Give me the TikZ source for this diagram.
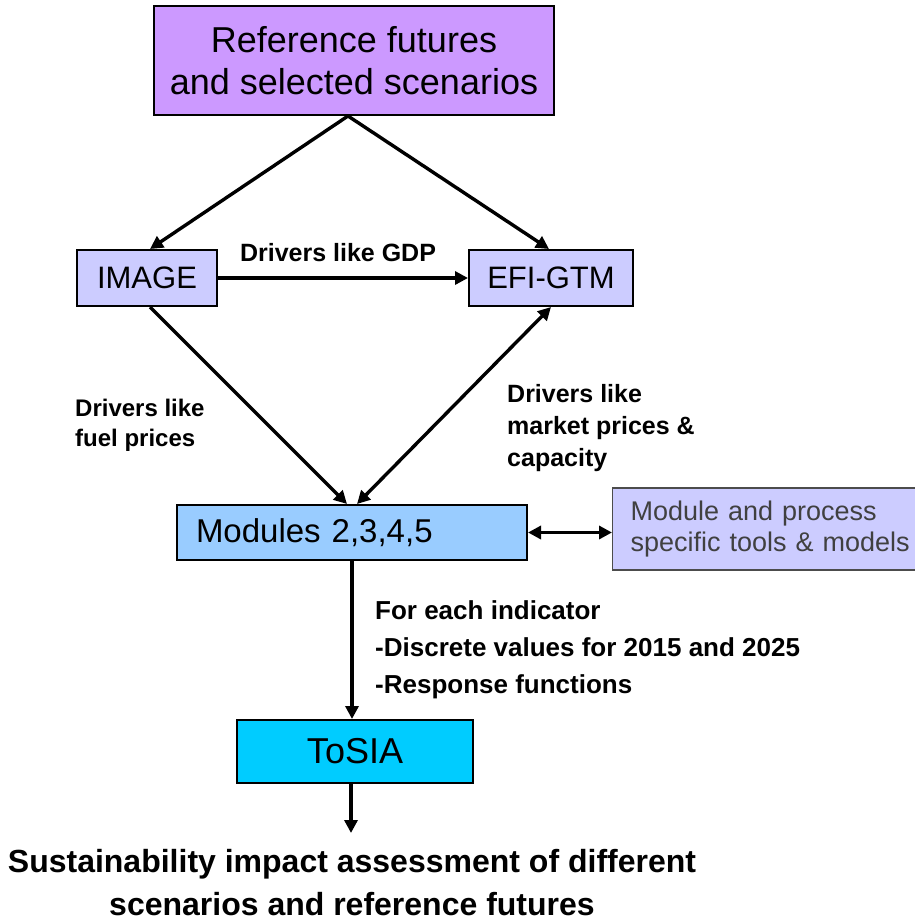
\documentclass[tikz,border=0pt]{standalone}
\usepackage{fontspec}
\setmainfont{Liberation Sans}
\usetikzlibrary{arrows.meta}

\definecolor{lilac}{HTML}{CC99FF}
\definecolor{lavender}{HTML}{CCCCFF}
\definecolor{skyblue}{HTML}{99CCFF}
\definecolor{cyanbox}{HTML}{00CCFF}

\tikzset{
  box/.style={draw=black, line width=2pt, inner sep=0pt, align=center},
  link/.style={line width=3.4pt, -{Triangle[length=13pt,width=13pt]}},
  twolink/.style={line width=3.4pt, {Triangle[length=13pt,width=13pt]}-{Triangle[length=13pt,width=13pt]}},
  note/.style={font=\fontsize{25}{32}\selectfont\bfseries, align=left, inner sep=0pt}
}

\begin{document}
\begin{tikzpicture}[x=1pt,y=-1pt]
\useasboundingbox (0,0) rectangle (915,921);

% boxes
\node[box, fill=lilac, minimum width=400, minimum height=109,
  font=\fontsize{36}{42}\selectfont] (ref) at (354,60.5) {Reference futures\\and selected scenarios};
\node[box, fill=lavender, minimum width=140, minimum height=56,
  font=\fontsize{31}{36}\selectfont] (image) at (147,278) {IMAGE};
\node[box, fill=lavender, minimum width=164, minimum height=56,
  font=\fontsize{31}{36}\selectfont] (efi) at (551,278) {EFI-GTM};
\node[box, fill=skyblue, minimum width=350, minimum height=55, inner xsep=19,
  text width=312, align=left, font=\fontsize{33}{36}\selectfont] (mod) at (352,532.5) {Modules 2,3,4,5};
\node[box, draw=black!70, line width=1.2pt, fill=lavender, anchor=west, minimum height=82,
  inner xsep=18, inner ysep=0pt, text width=300, align=left, text=black!75,
  font=\fontsize{27}{31}\selectfont] (side) at (612,529) {\raisebox{-4pt}{\parbox{300pt}{Module and process\\specific tools \& models}}};
\node[box, fill=cyanbox, minimum width=236, minimum height=63,
  font=\fontsize{36}{42}\selectfont] (tosia) at (355,751.5) {ToSIA};

% labels
\node[note] (gdp) at (338,253) {Drivers like GDP};
\node[note, anchor=west, font=\fontsize{24}{30}\selectfont\bfseries] (fuel) at (75,425) {Drivers like\\fuel prices};
\node[note, anchor=west] (market) at (507,428) {Drivers like\\market prices \&\\capacity};
\node[note, anchor=west, font=\fontsize{26}{37}\selectfont\bfseries] (ind) at (375,650) {For each indicator\\-Discrete values for 2015 and 2025\\-Response functions};
\node[align=center, inner sep=0pt, font=\fontsize{32}{43}\selectfont\bfseries] (impact) at (352,883)
  {Sustainability impact assessment of different\\scenarios and reference futures};
\coordinate (out) at (351,833);

% connectors
\draw[link] ([xshift=-6]ref.south) -- ([xshift=3]image.north);
\draw[link] ([xshift=-6]ref.south) -- ([xshift=-2]efi.north);
\draw[link] (image.east) -- (efi.west);
\draw[link] ([xshift=3]image.south) -- ([xshift=-5]mod.north);
\draw[twolink] ([xshift=5]mod.north) -- (efi.south);
\draw[twolink] (mod.east) -- (mod.east -| side.west);
\draw[link] (mod.south) -- (mod.south |- tosia.north);
\draw[link] (out |- tosia.south) -- (out);
\end{tikzpicture}
\end{document}
